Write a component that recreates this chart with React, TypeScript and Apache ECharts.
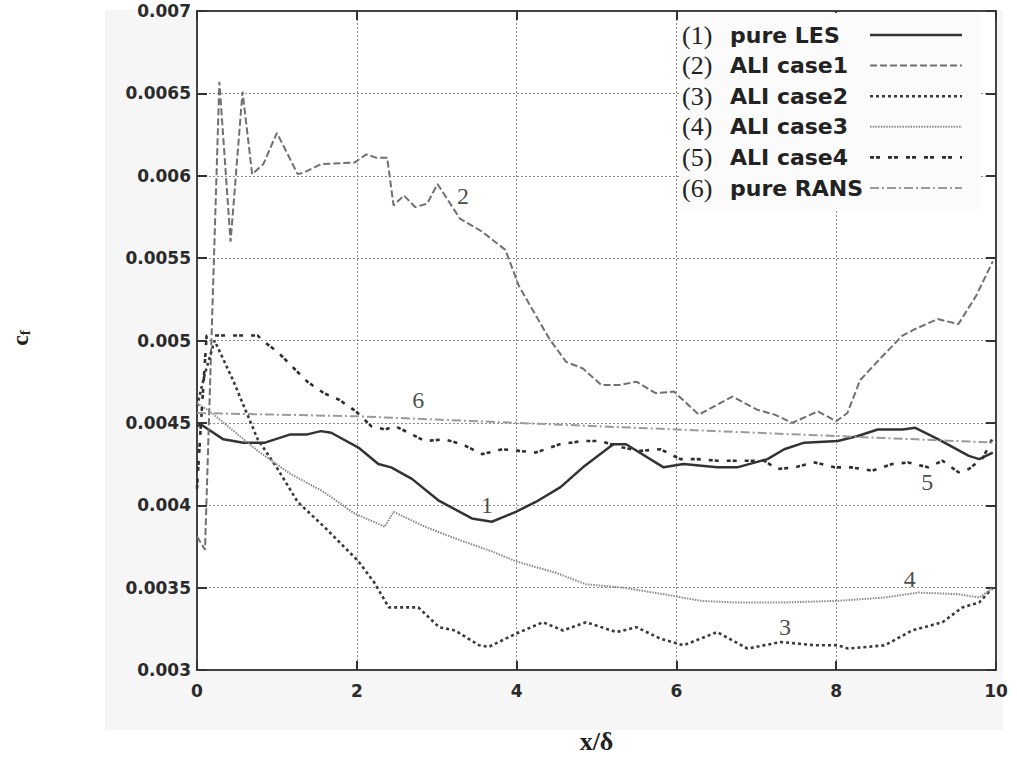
import React, { useEffect, useRef } from "react";
import * as echarts from "echarts";

// ---- data (x/δ, c_f) ----
const seriesNames = ["pure LES", "ALI case1", "ALI case2", "ALI case3", "ALI case4", "pure RANS"];

const pureLES = [
  [0, 0.00448], [0.05, 0.00449], [0.33, 0.0044], [0.58, 0.00438], [0.85, 0.00438], [1.17, 0.00443],
  [1.38, 0.00443], [1.55, 0.00445], [1.68, 0.00444], [2.02, 0.00435], [2.27, 0.00425], [2.43, 0.00423],
  [2.69, 0.00416], [3.02, 0.00403], [3.44, 0.00392], [3.69, 0.0039], [3.99, 0.00396], [4.24, 0.00402],
  [4.55, 0.00411], [4.83, 0.00423], [5.21, 0.00437], [5.37, 0.00437], [5.84, 0.00423], [6.09, 0.00425],
  [6.51, 0.00423], [6.76, 0.00423], [7.14, 0.00428], [7.35, 0.00434], [7.6, 0.00438], [8.02, 0.00439],
  [8.27, 0.00442], [8.52, 0.00446], [8.83, 0.00446], [8.99, 0.00447], [9.28, 0.0044], [9.66, 0.0043],
  [9.79, 0.00428], [9.96, 0.00432],
];

const aliCase1 = [
  [0, 0.00381], [0.1, 0.00373], [0.28, 0.00657], [0.42, 0.0056], [0.57, 0.00651], [0.69, 0.00601],
  [0.83, 0.00607], [1.0, 0.00626], [1.26, 0.00601], [1.34, 0.00602], [1.55, 0.00607], [1.97, 0.00608],
  [2.12, 0.00613], [2.24, 0.00611], [2.38, 0.00611], [2.46, 0.00582], [2.59, 0.00588], [2.73, 0.00581],
  [2.88, 0.00583], [3.01, 0.00595], [3.29, 0.00574], [3.57, 0.00566], [3.86, 0.00555], [4.03, 0.00533],
  [4.41, 0.00501], [4.62, 0.00487], [4.83, 0.00483], [5.06, 0.00473], [5.29, 0.00473], [5.5, 0.00475],
  [5.74, 0.00468], [5.97, 0.00469], [6.28, 0.00455], [6.7, 0.00466], [7.01, 0.00458], [7.23, 0.00455],
  [7.45, 0.0045], [7.77, 0.00457], [8.0, 0.00451], [8.14, 0.00456], [8.3, 0.00476], [8.55, 0.00489],
  [8.83, 0.00503], [8.99, 0.00507], [9.27, 0.00513], [9.53, 0.0051], [9.75, 0.00527], [9.96, 0.00548],
];

const aliCase2 = [
  [0, 0.0046], [0.1, 0.0048], [0.22, 0.005], [0.45, 0.00476], [0.76, 0.0044], [1.01, 0.00422],
  [1.26, 0.00402], [1.59, 0.00387], [2.02, 0.00366], [2.22, 0.00353], [2.4, 0.00338], [2.77, 0.00338],
  [3.03, 0.00326], [3.23, 0.00324], [3.53, 0.00315], [3.65, 0.00314], [3.99, 0.00322], [4.33, 0.00329],
  [4.58, 0.00324], [4.87, 0.00329], [5.25, 0.00323], [5.5, 0.00326], [5.8, 0.00319], [6.09, 0.00315],
  [6.51, 0.00323], [6.89, 0.00313], [7.31, 0.00317], [7.73, 0.00315], [8.02, 0.00315], [8.15, 0.00313],
  [8.61, 0.00315], [8.95, 0.00324], [9.33, 0.00329], [9.58, 0.00338], [9.79, 0.00341], [9.96, 0.0035],
];

const aliCase3 = [
  [0, 0.00462], [0.16, 0.00457], [0.76, 0.00433], [1.17, 0.00419], [1.59, 0.00408], [1.97, 0.00395],
  [2.35, 0.00387], [2.46, 0.00396], [2.85, 0.00387], [3.28, 0.00379], [3.69, 0.00372], [3.99, 0.00366],
  [4.49, 0.00359], [4.87, 0.00352], [5.33, 0.0035], [5.84, 0.00346], [6.3, 0.00342], [6.72, 0.00341],
  [7.35, 0.00341], [8.02, 0.00342], [8.61, 0.00344], [9.03, 0.00347], [9.53, 0.00346], [9.79, 0.00344],
  [9.97, 0.0035],
];

const aliCase4 = [
  [0, 0.0041], [0.05, 0.0045], [0.12, 0.00503], [0.54, 0.00503], [0.76, 0.00503], [0.82, 0.005],
  [1.01, 0.00493], [1.38, 0.00475], [1.59, 0.00468], [1.78, 0.00464], [1.99, 0.00457], [2.18, 0.00448],
  [2.35, 0.00446], [2.48, 0.00448], [2.65, 0.00444], [2.85, 0.00439], [3.1, 0.0044], [3.32, 0.00437],
  [3.57, 0.00431], [3.82, 0.00434], [4.03, 0.00433], [4.24, 0.00432], [4.54, 0.00437], [4.83, 0.00439],
  [5.04, 0.00439], [5.33, 0.00435], [5.55, 0.00433], [5.8, 0.00434], [6.05, 0.00428], [6.26, 0.00428],
  [6.51, 0.00427], [6.85, 0.00427], [7.1, 0.00427], [7.26, 0.00422], [7.48, 0.00423], [7.73, 0.00426],
  [7.98, 0.00423], [8.19, 0.00423], [8.45, 0.00421], [8.7, 0.00425], [8.9, 0.00426], [9.15, 0.00423],
  [9.33, 0.00427], [9.53, 0.0042], [9.66, 0.00422], [9.84, 0.00429], [9.96, 0.00441],
];

const pureRANS = [
  [0, 0.00456], [1, 0.00455], [2, 0.00454], [3, 0.00452], [4, 0.0045], [5, 0.00448],
  [6, 0.00446], [7, 0.00444], [8, 0.00442], [9, 0.0044], [10, 0.00438],
];

const curveTags = [
  { name: "2", value: [3.33, 0.00588] },
  { name: "6", value: [2.77, 0.00464] },
  { name: "1", value: [3.63, 0.004] },
  { name: "5", value: [9.14, 0.00414] },
  { name: "4", value: [8.92, 0.00355] },
  { name: "3", value: [7.36, 0.00326] },
];

const xRange = { min: 0, max: 10, interval: 2 };
const yRange = { min: 0.003, max: 0.007, interval: 0.0005 };

// ---- styles ----
const allData = [pureLES, aliCase1, aliCase2, aliCase3, aliCase4, pureRANS];
const lineColors = ["#333333", "#707070", "#3a3a3a", "#8a8a8a", "#2e2e2e", "#9a9a9a"];
const lineWidths = [2.5, 2, 2.6, 2, 2.6, 2];
const lineDashes: any[] = ["solid", [7, 3], [3, 3], [1.5, 1.2], [4, 2, 4, 8], [9, 3, 2, 3]];

const SANS = '"DejaVu Sans", "Liberation Sans", sans-serif';
const SERIF = '"Liberation Serif", "DejaVu Serif", serif';

export default function App() {
  const ref = useRef<HTMLDivElement>(null);

  useEffect(() => {
    if (!ref.current) return;
    const chart = echarts.init(ref.current, undefined, { renderer: "svg" });

    const lineSeries = seriesNames.map((name, i) => ({
      type: "line",
      name,
      data: allData[i],
      symbol: "none",
      smooth: false,
      z: 3,
      lineStyle: { color: lineColors[i], width: lineWidths[i], type: lineDashes[i] },
      emphasis: { disabled: true },
    }));

    const legendTop = 35;
    const legendStep = 30.6;
    const legendEls: any[] = [
      {
        type: "rect",
        z: 10,
        shape: { x: 679, y: 13, width: 301, height: 196 },
        style: { fill: "#fbfbfb" },
      },
    ];
    seriesNames.forEach((name, i) => {
      const cy = legendTop + i * legendStep;
      legendEls.push({
        type: "text",
        z: 11,
        x: 682,
        y: cy,
        style: { text: `(${i + 1})`, font: `26px ${SERIF}`, fill: "#222", verticalAlign: "middle", align: "left" },
      });
      legendEls.push({
        type: "text",
        z: 11,
        x: 730,
        y: cy,
        style: { text: name, font: `bold 22px ${SANS}`, fill: "#222", verticalAlign: "middle", align: "left" },
      });
      legendEls.push({
        type: "line",
        z: 11,
        shape: { x1: 870, y1: cy, x2: 962, y2: cy },
        style: {
          stroke: lineColors[i],
          lineWidth: lineWidths[i],
          lineDash: lineDashes[i] === "solid" ? null : lineDashes[i],
        },
      });
    });

    const option: any = {
      animation: false,
      backgroundColor: "#ffffff",
      grid: {
        left: 197,
        right: 21,
        top: 11,
        bottom: 90,
        show: true,
        backgroundColor: "#ffffff",
        borderWidth: 0,
        outerBoundsMode: "none",
      },
      graphic: [
        {
          type: "rect",
          z: -100,
          silent: true,
          shape: { x: 105, y: 10, width: 898, height: 720 },
          style: { fill: "#f6f6f6" },
        },
        {
          type: "text",
          z: 5,
          x: 20,
          y: 338,
          rotation: Math.PI / 2,
          style: {
            text: "{c|c}{f|f}",
            align: "center",
            verticalAlign: "middle",
            rich: {
              c: { fontFamily: SERIF, fontWeight: "bold", fontSize: 24, fill: "#222" },
              f: { fontFamily: SERIF, fontWeight: "bold", fontSize: 15, fill: "#222", padding: [10, 0, 0, 0] },
            },
          },
        },
        ...legendEls,
      ],
      xAxis: [
        {
          type: "value",
          ...xRange,
          position: "bottom",
          name: "x/δ",
          nameLocation: "middle",
          nameGap: 58,
          nameTextStyle: { fontFamily: SERIF, fontWeight: "bold", fontSize: 26, color: "#222" },
          axisLine: { show: true, onZero: false, lineStyle: { color: "#444", width: 2 } },
          axisTick: { show: true, inside: true, length: 9, lineStyle: { color: "#333", width: 2 } },
          axisLabel: { margin: 12, fontFamily: SANS, fontWeight: "bold", fontSize: 17, color: "#2a2a2a" },
          splitLine: { show: true, lineStyle: { color: "#8a8a8a", width: 1, type: [2, 2] } },
        },
        {
          type: "value",
          ...xRange,
          position: "top",
          axisLine: { show: true, onZero: false, lineStyle: { color: "#444", width: 2 } },
          axisTick: { show: true, inside: true, length: 9, lineStyle: { color: "#333", width: 2 } },
          axisLabel: { show: false },
          splitLine: { show: false },
        },
      ],
      yAxis: [
        {
          type: "value",
          ...yRange,
          position: "left",
          axisLine: { show: true, onZero: false, lineStyle: { color: "#444", width: 2 } },
          axisTick: { show: true, inside: true, length: 10, lineStyle: { color: "#333", width: 2 } },
          axisLabel: {
            margin: 6,
            fontFamily: SANS,
            fontWeight: "bold",
            fontSize: 17,
            color: "#2a2a2a",
            formatter: (v: number) => String(parseFloat(v.toFixed(4))),
          },
          splitLine: { show: true, lineStyle: { color: "#8a8a8a", width: 1, type: [2, 2] } },
        },
        {
          type: "value",
          ...yRange,
          position: "right",
          axisLine: { show: true, onZero: false, lineStyle: { color: "#444", width: 2 } },
          axisTick: { show: true, inside: true, length: 10, lineStyle: { color: "#333", width: 2 } },
          axisLabel: { show: false },
          splitLine: { show: false },
        },
      ],
      series: [
        ...lineSeries,
        {
          type: "scatter",
          name: "tags",
          data: curveTags,
          symbolSize: 0,
          z: 5,
          silent: true,
          label: {
            show: true,
            position: "inside",
            formatter: "{b}",
            fontFamily: SERIF,
            fontSize: 24,
            color: "#1a1a1a",
          },
        },
      ],
    };

    chart.setOption(option);
    return () => chart.dispose();
  }, []);

  return (
    <div
      ref={ref}
      style={{ position: "absolute", left: 0, top: 0, width: 1017, height: 760 }}
    />
  );
}
